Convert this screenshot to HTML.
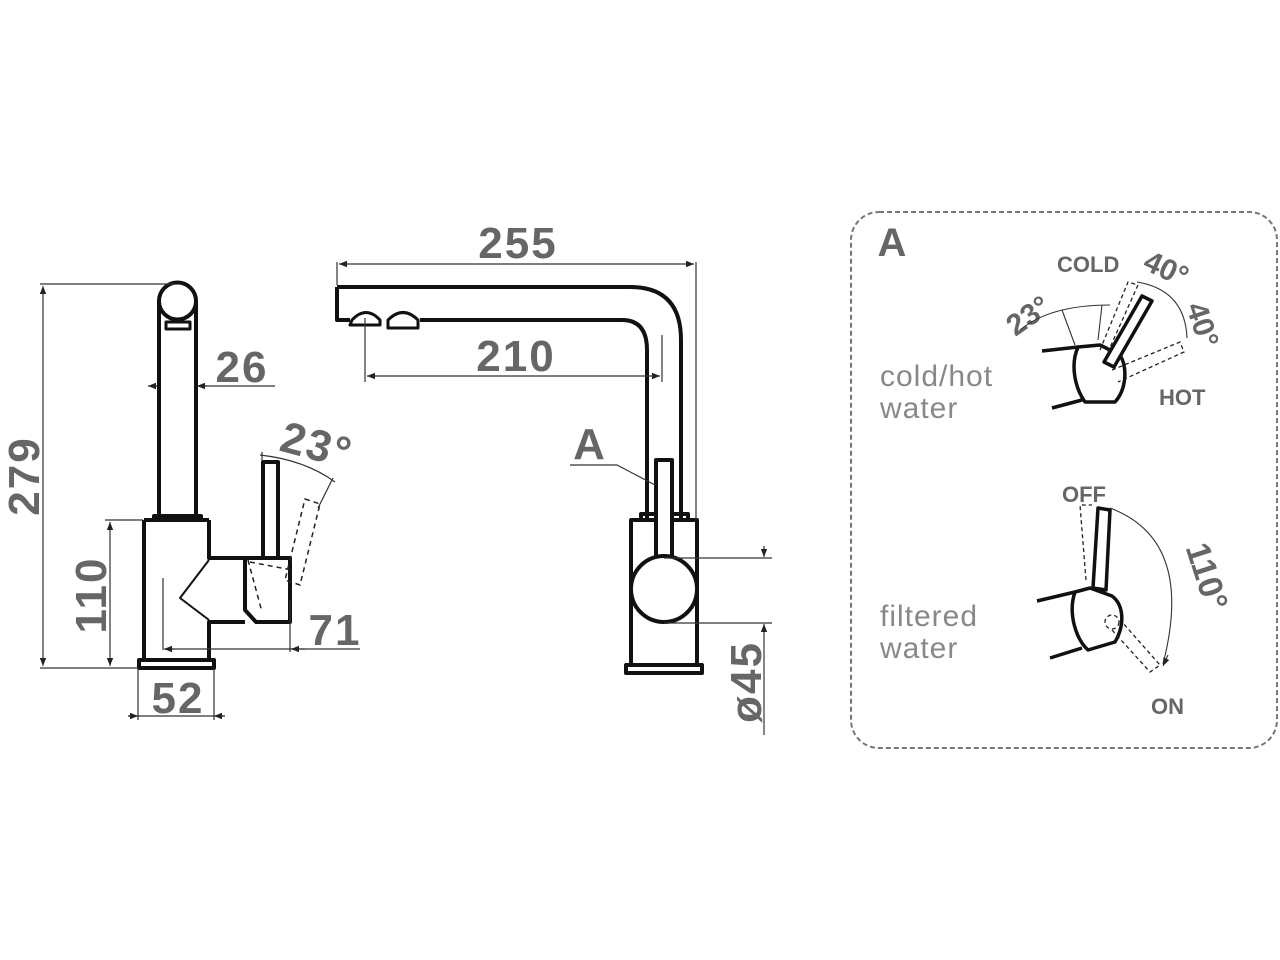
<!DOCTYPE html>
<html><head><meta charset="utf-8"><style>
html,body{margin:0;padding:0;background:#fff;}
svg{display:block;}
.d{font-family:"Liberation Sans",sans-serif;font-weight:bold;fill:#666;}
.n{font-family:"Liberation Sans",sans-serif;font-weight:bold;fill:#666;font-size:44px;letter-spacing:2px;}
.l{font-family:"Liberation Sans",sans-serif;fill:#888;letter-spacing:1px;}
</style></head><body>
<svg width="1280" height="960" viewBox="0 0 1280 960" xmlns="http://www.w3.org/2000/svg">
<defs>
<marker id="ar" viewBox="0 0 10 10" refX="10" refY="5" markerWidth="12" markerHeight="8" orient="auto-start-reverse" markerUnits="userSpaceOnUse"><path d="M0,1 L10,5 L0,9 Z" fill="#222"/></marker>
</defs>
<g fill="none" stroke="#111" stroke-width="4" stroke-linejoin="round">
<path d="M159,300 L159,516 M196,300 L196,516"/>
<circle cx="177.5" cy="301" r="18.5" fill="#fff"/>
<rect x="166" y="322" width="24" height="7" stroke-width="3" fill="#fff"/>
<path d="M154,522 L154,516 L201,516 L201,522"/>
<path d="M144,520 L144,660 L209,660 L209,622 L245,622 M209,520 L209,558 L245,558"/>
<path d="M144,520 L209,520"/>
<rect x="139" y="660" width="75" height="8" fill="#fff"/>
<path d="M209,560 L180,598 L209,620" stroke-width="2"/>
<path d="M245,558 L290,558 L290,622 L256,622 L245,610 Z"/>
<rect x="263" y="462" width="15" height="96" fill="#fff"/>
</g>
<g fill="none" stroke="#222" stroke-width="1.5" stroke-dasharray="5,4">
<path d="M305,499 L320,504 L300,585 L285,580 Z"/>
<path d="M250,562 L292,570 M248,560 L262,612"/>
</g>
<g fill="none" stroke="#333" stroke-width="1.2">
<path d="M40,284 L175,284 M40,668 L138,668"/>
<path d="M43,286 L43,666" marker-start="url(#ar)" marker-end="url(#ar)"/>
<path d="M148,386 L157,386" marker-start="url(#ar)"/>
<path d="M197,386 L275,386"/>
<path d="M207,386 L197,386" marker-end="url(#ar)"/>
<path d="M105,520 L143,520"/>
<path d="M110,522 L110,666" marker-start="url(#ar)" marker-end="url(#ar)"/>
<path d="M138,668 L138,720 M214,668 L214,720"/>
<path d="M128,716 L225,716"/>
<path d="M128,716 L138,716" marker-end="url(#ar)"/>
<path d="M225,716 L214,716" marker-end="url(#ar)"/>
<path d="M163,578 L163,650"/>
<path d="M165,649 L360,649"/>
<path d="M290,600 L290,652"/>
<path d="M174,649 L164,649" marker-end="url(#ar)"/>
<path d="M305,649 L291,649" marker-end="url(#ar)"/>
<path d="M260,455 Q305,460 335,482"/>
<path d="M262,452 L262,460 M333,478 L318,508"/>
</g>
<text class="n" x="242" y="382" text-anchor="middle">26</text>
<text class="n" x="335" y="645" text-anchor="middle">71</text>
<text class="n" x="178" y="713" text-anchor="middle">52</text>
<text class="n" x="316" y="460" text-anchor="middle" transform="rotate(15 316 448)">23°</text>
<text class="n" transform="translate(39,476) rotate(-90)" text-anchor="middle">279</text>
<text class="n" transform="translate(106,595) rotate(-90)" text-anchor="middle">110</text>

<g fill="none" stroke="#111" stroke-width="4" stroke-linejoin="round">
<path d="M337,287 L630,287 Q681,287 681,340 L681,518"/>
<path d="M337,287 L337,320 L350,320 M420,320 L622,320 Q647,320 647,350 L647,518"/>
<path d="M350,325 L352,320 Q366,305 380,320 L380,325 Z" stroke-width="3"/>
<path d="M388,328 L388,320 Q403,305 418,320 L418,328 Z" stroke-width="3"/>
<path d="M641,518 L641,514 L688,514 L688,518"/>
<rect x="631" y="520" width="66" height="145" fill="#fff"/>
<rect x="626" y="665" width="76" height="8" fill="#fff"/>
<rect x="656" y="460" width="16" height="100" fill="#fff"/>
<circle cx="664" cy="589" r="33" fill="#fff"/>
</g>
<g fill="none" stroke="#333" stroke-width="1.2">
<path d="M337,262 L337,285 M696,262 L696,520"/>
<path d="M339,264 L694,264" marker-start="url(#ar)" marker-end="url(#ar)"/>
<path d="M365,318 L365,382 M662,335 L662,382"/>
<path d="M367,376 L660,376" marker-start="url(#ar)" marker-end="url(#ar)"/>
<path d="M664,558 L772,558 M664,623 L772,623"/>
<path d="M764,546 L764,557" marker-end="url(#ar)"/>
<path d="M764,735 L764,624" marker-end="url(#ar)"/>
<path d="M570,465 L617,465 L655,485"/>
</g>
<text class="n" x="518" y="258" text-anchor="middle">255</text>
<text class="n" x="516" y="371" text-anchor="middle">210</text>
<text class="n" x="590" y="459" text-anchor="middle">A</text>
<text class="n" transform="translate(761,682) rotate(-90)" text-anchor="middle">ø45</text>

<rect x="851" y="212" width="426" height="536" rx="28" fill="none" stroke="#777" stroke-width="2" stroke-dasharray="5,3"/>
<text class="d" x="892" y="256" font-size="40" text-anchor="middle">A</text>
<text class="d" x="1057" y="272" font-size="22">COLD</text>
<text class="d" x="1159" y="405" font-size="22">HOT</text>
<text class="d" x="1062" y="502" font-size="22">OFF</text>
<text class="d" x="1151" y="714" font-size="22">ON</text>
<text class="d" font-size="30" transform="translate(1162,278) rotate(25)" text-anchor="middle">40°</text>
<text class="d" font-size="30" transform="translate(1034,324) rotate(-35)" text-anchor="middle">23°</text>
<text class="d" font-size="30" transform="translate(1193,328) rotate(72)" text-anchor="middle">40°</text>
<text class="d" font-size="34" transform="translate(1196,580) rotate(72)" text-anchor="middle">110°</text>
<text class="l" x="880" y="386" font-size="30">cold/hot</text>
<text class="l" x="880" y="418" font-size="30">water</text>
<text class="l" x="880" y="626" font-size="30">filtered</text>
<text class="l" x="880" y="658" font-size="30">water</text>

<g fill="none" stroke="#111" stroke-width="3.5" stroke-linejoin="round">
<path d="M1042,351 L1078,347 M1052,408 L1082,400"/>
<path d="M1078,347 C1070,365 1075,388 1085,402 L1115,402 C1126,390 1128,368 1120,355 L1100,345 Z" fill="#fff"/>
<path d="M1104,362 L1142,296 L1152,301 L1114,367 Z" fill="#fff"/>
<path d="M1037,601 L1075,592 M1050,658 L1082,648"/>
<path d="M1075,592 C1068,612 1075,638 1088,650 L1115,642 C1125,625 1124,605 1112,596 L1090,588 Z" fill="#fff"/>
<path d="M1093,588 L1098,508 L1110,510 L1106,590 Z" fill="#fff"/>
</g>
<g fill="none" stroke="#222" stroke-width="1.3" stroke-dasharray="4,3">
<path d="M1100,350 L1128,282 L1138,285 L1108,352"/>
<path d="M1112,370 L1180,342 L1184,352 L1118,382"/>
<path d="M1086,580 L1080,505 L1092,505"/>
<path d="M1112,630 L1150,672 L1160,665 L1122,622"/>
<circle cx="1112" cy="622" r="7"/>
</g>
<g fill="none" stroke="#333" stroke-width="1.1">
<path d="M1020,330 Q1050,305 1110,305"/>
<path d="M1062,310 L1075,345 M1102,305 L1098,340"/>
<path d="M1137,282 Q1185,290 1187,338"/>
<path d="M1110,508 Q1195,540 1163,664"/>
<path d="M1168,655 L1163,666" marker-end="url(#ar)"/>
</g>
</svg>
</body></html>
